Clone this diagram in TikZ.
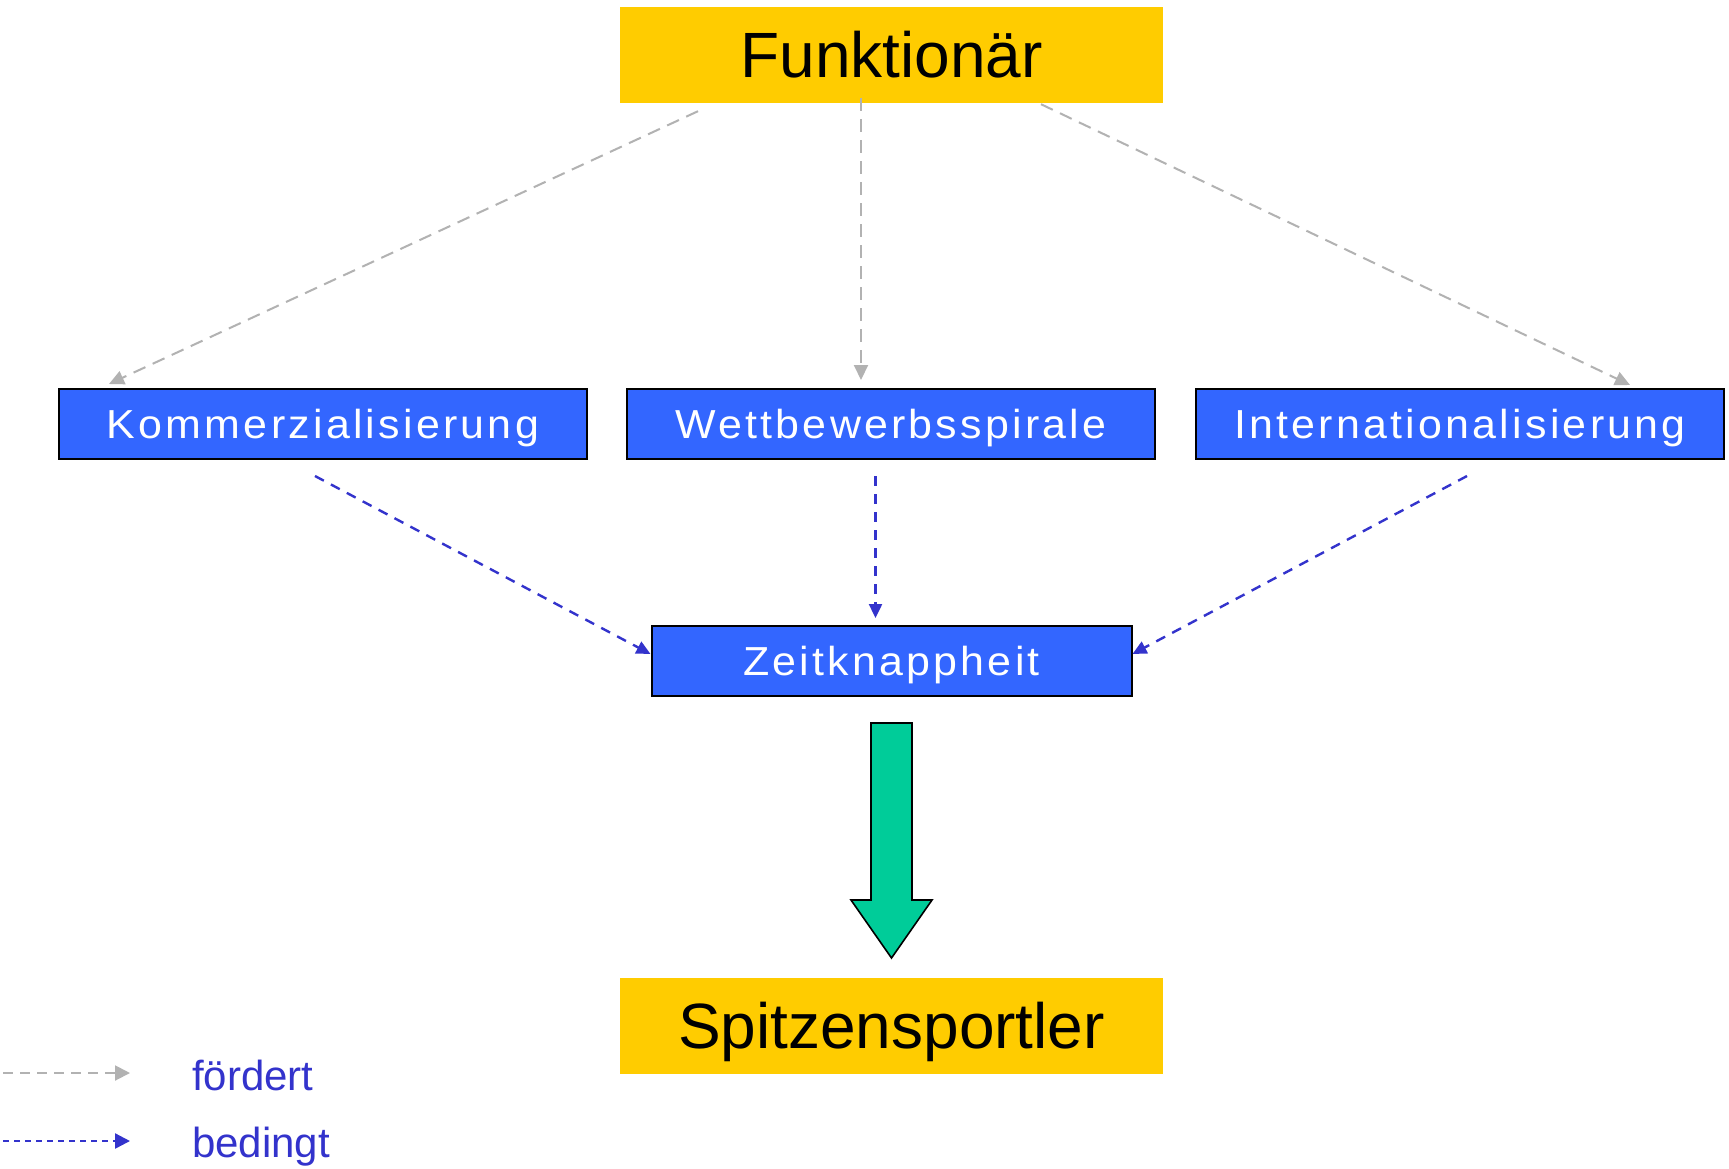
\documentclass[tikz,border=0pt]{standalone}
\usepackage{fontspec}
\setmainfont{Liberation Sans}
\newfontfamily\spacedfont[LetterSpace=8,FakeStretch=1.06]{Liberation Sans}
\usetikzlibrary{arrows.meta}
\definecolor{gold}{HTML}{FFCC00}
\definecolor{boxblue}{HTML}{3366FF}
\definecolor{lineblue}{HTML}{3333CC}
\definecolor{linegray}{HTML}{B2B2B2}
\definecolor{arrowgreen}{HTML}{00CC99}
\tikzset{
  bigbox/.style={fill=gold, minimum width=543pt, minimum height=96pt, inner sep=0pt,
    font=\fontsize{64}{70}\selectfont, text height=46pt, text depth=0pt},
  bluebox/.style={fill=boxblue, draw=black, line width=2pt, minimum height=70pt, inner sep=0pt,
    text=white, font=\spacedfont\fontsize{40.5}{46}\selectfont, text height=29pt, text depth=0pt},
  foerdert/.style={draw=linegray, line width=2pt, dash pattern=on 13pt off 8pt,
    -{Triangle[length=15pt,width=14pt]}},
  bedingt/.style={draw=lineblue, line width=2.4pt, dash pattern=on 10pt off 8pt,
    -{Triangle[length=14pt,width=13pt]}},
  legendtext/.style={anchor=base west, inner sep=0pt, text=lineblue,
    font=\fontsize{42}{48}\selectfont}
}
\begin{document}
\begin{tikzpicture}[x=1pt,y=-1pt]
\useasboundingbox[fill=white] (0,0) rectangle (1729,1168);
% main nodes
\node[bigbox] (F) at (891.5,54.5) {Funktionär};
\node[bigbox] (S) at (891.5,1025.5) {Spitzensportler};
\node[bluebox, minimum width=528pt] (K) at (323,424) {Kommerzialisierung};
\node[bluebox, minimum width=528pt] (W) at (891,424) {Wettbewerbsspirale};
\node[bluebox, minimum width=528pt] (I) at (1460,424) {Internationalisierung};
\node[bluebox, minimum width=480pt] (Z) at (891.5,661) {Zeitknappheit};
% gray connectors
\draw[foerdert] ([xshift=-193.5pt,yshift=-8.5pt]F.south) -- ([xshift=-214pt,yshift=4pt]K.north);
\draw[foerdert] ([xshift=-30.5pt,yshift=4.5pt]F.south) -- ([xshift=-30pt,yshift=8pt]W.north);
\draw[foerdert] ([xshift=149.5pt,yshift=-1.5pt]F.south) -- ([xshift=170pt,yshift=3pt]I.north);
% blue connectors
\draw[bedingt] ([xshift=-8pt,yshift=-16pt]K.south) -- ([yshift=7pt]Z.west);
\draw[bedingt] ([xshift=-15.5pt,yshift=-16pt]W.south) -- ([xshift=-16pt,yshift=7pt]Z.north);
\draw[bedingt] ([xshift=7pt,yshift=-16pt]I.south) -- ([yshift=7pt]Z.east);
% green block arrow
\draw[fill=arrowgreen, draw=black, line width=1.6pt, line join=miter]
  (871,723) -- (912,723) -- (912,900) -- (932,900) -- (891.5,958) -- (851,900) -- (871,900) -- cycle;
% legend
\coordinate (lg1) at (3,1073);
\coordinate (lg2) at (130,1073);
\coordinate (lb1) at (3,1141);
\coordinate (lb2) at (130,1141);
\draw[foerdert, dash pattern=on 10pt off 7pt, -{Triangle[length=15pt,width=15pt]}] (lg1) -- (lg2);
\draw[bedingt, dash pattern=on 6pt off 5pt, -{Triangle[length=15pt,width=15pt]}] (lb1) -- (lb2);
\node[legendtext] (t1) at (192,1090) {fördert};
\node[legendtext] (t2) at (192,1157) {bedingt};
\end{tikzpicture}
\end{document}
